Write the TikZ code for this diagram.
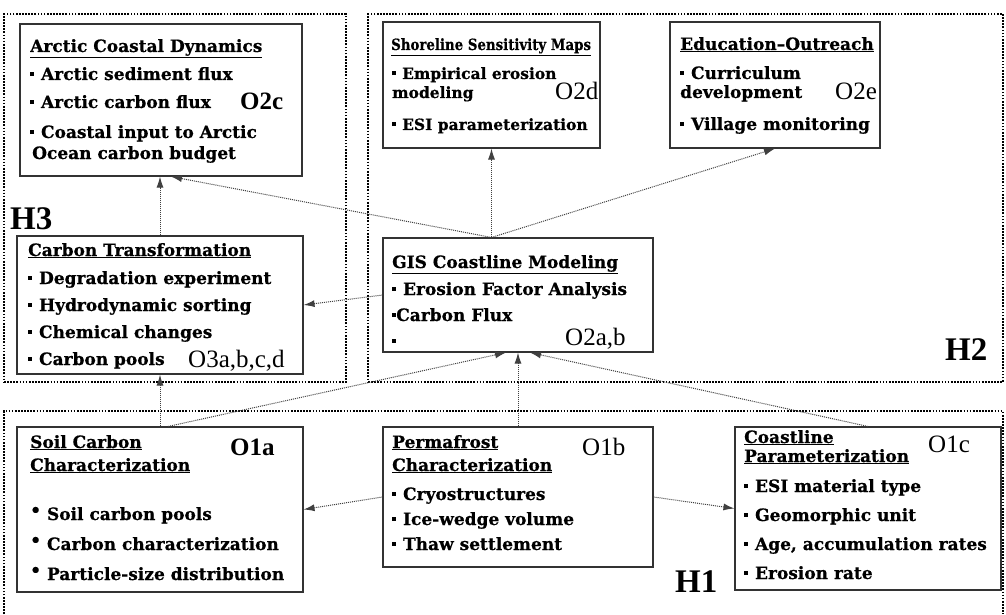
\documentclass[tikz,border=0pt]{standalone}
\usepackage{fontspec}
\setmainfont{DejaVu Serif}[BoldFeatures={FakeBold=0.6}]
\newfontfamily\libserif{Liberation Serif}
\usetikzlibrary{arrows.meta,fit}
\newcommand{\bsq}{\raisebox{0.25em}{\rule{0.24em}{0.24em}}\hspace{0.4em}}
\newcommand{\bsqn}{\raisebox{0.25em}{\rule{0.24em}{0.24em}}}
\newcommand{\bdt}{\raisebox{0.22em}{•}\hspace{0.35em}}
\begin{document}
\begin{tikzpicture}[x=1pt,y=-1pt,
  region/.style={draw=black, line width=2.6pt, dash pattern=on 1.7pt off 1.4pt, inner sep=0pt},
  box/.style={draw=black!80, line width=1.1pt, inner sep=0pt},
  txt/.style={anchor=base west, inner sep=0pt, font=\fontsize{17}{19}\selectfont\bfseries},
  stxt/.style={anchor=base west, inner sep=0pt, font=\fontsize{15.5}{18}\selectfont\bfseries},
  olab/.style={anchor=base west, inner sep=0pt, font=\libserif\fontsize{25}{27}\selectfont},
  obold/.style={anchor=base west, inner sep=0pt, font=\libserif\fontsize{25}{27}\selectfont\bfseries},
  hlab/.style={anchor=base west, inner sep=0pt, font=\libserif\fontsize{33}{35}\selectfont\bfseries},
  link/.style={draw=black!75, line width=1pt, densely dotted, -{Latex[length=11pt,width=7pt]}},
]
\useasboundingbox (0,0) rectangle (1006,615);
\fill[white] (0,0) rectangle (1006,615);

% regions
\node[region, fit={(4,14)(346,382)}] (h3reg) {};
\node[region, fit={(368,14)(1003,382)}] (h2reg) {};
\draw[region] (4,614) -- (4,411) -- (1003,411) -- (1003,614);

% boxes
\node[box, fit={(20,24)(302,176)}] (arctic) {};
\node[box, fit={(383,22)(600,148)}] (shore) {};
\node[box, fit={(670,22)(880,148)}] (edu) {};
\node[box, fit={(17,236)(303,374)}] (carbon) {};
\node[box, fit={(383,238)(653,352)}] (gis) {};
\node[box, fit={(17,427)(303,592)}] (soil) {};
\node[box, fit={(383,427)(653,567)}] (perma) {};
\node[box, fit={(735,427)(1001,590)}] (coast) {};

% Arctic Coastal Dynamics
\node[txt] (a0) at (30,52) {\underline{Arctic Coastal Dynamics}};
\node[txt] (a1) at (30,80) {\bsq Arctic sediment flux};
\node[txt] (a2) at (30,108) {\bsq Arctic carbon flux};
\node[txt] (a3) at (30,138) {\bsq Coastal input to Arctic};
\node[txt] (a4) at (32,159) {Ocean carbon budget};
\node[obold] (o2c) at (240,110) {O2c};

% Shoreline Sensitivity Maps
\node[stxt] (s0) at (391,50) {\scalebox{0.86}[1]{\underline{Shoreline Sensitivity Maps}}};
\node[stxt] (s1) at (392,79) {\bsq Empirical erosion};
\node[stxt] (s2) at (392,98) {modeling};
\node[stxt] (s3) at (392,130) {\bsq ESI parameterization};
\node[olab] (o2d) at (555,100) {O2d};

% Education-Outreach
\node[txt] (e0) at (680,50) {\underline{Education–Outreach}};
\node[txt] (e1) at (680,79) {\bsq Curriculum};
\node[txt] (e2) at (680,98) {development};
\node[txt] (e3) at (680,130) {\bsq Village monitoring};
\node[olab] (o2e) at (835,100) {O2e};

% Carbon Transformation
\node[txt] (c0) at (28,256) {\underline{Carbon Transformation}};
\node[txt] (c1) at (28,284) {\bsq Degradation experiment};
\node[txt] (c2) at (28,311) {\bsq Hydrodynamic sorting};
\node[txt] (c3) at (28,338) {\bsq Chemical changes};
\node[txt] (c4) at (28,365) {\bsq Carbon pools};
\node[olab] (o3) at (188,367) {O3a,b,c,d};

% GIS Coastline Modeling
\node[txt] (g0) at (392,268) {\underline{GIS Coastline Modeling}};
\node[txt] (g1) at (392,295) {\bsq Erosion Factor Analysis};
\node[txt] (g2) at (392,321) {\bsqn Carbon Flux};
\node[txt] (g3) at (392,347) {\bsqn};
\node[olab] (o2ab) at (565,345) {O2a,b};

% Soil Carbon Characterization
\node[txt] (sc0) at (30,448) {\underline{Soil Carbon}};
\node[txt] (sc1) at (30,471) {\underline{Characterization}};
\node[txt] (sc2) at (30,520) {\bdt Soil carbon pools};
\node[txt] (sc3) at (30,550) {\bdt Carbon characterization};
\node[txt] (sc4) at (30,580) {\bdt Particle-size distribution};
\node[obold] (o1a) at (230,455) {O1a};

% Permafrost Characterization
\node[txt] (p0) at (392,448) {\underline{Permafrost}};
\node[txt] (p1) at (392,471) {\underline{Characterization}};
\node[txt] (p2) at (392,500) {\bsq Cryostructures};
\node[txt] (p3) at (392,525) {\bsq Ice-wedge volume};
\node[txt] (p4) at (392,550) {\bsq Thaw settlement};
\node[olab] (o1b) at (582,455) {O1b};

% Coastline Parameterization
\node[txt] (k0) at (744,443) {\underline{Coastline}};
\node[txt] (k1) at (744,462) {\underline{Parameterization}};
\node[txt] (k2) at (744,492) {\bsq ESI material type};
\node[txt] (k3) at (744,521) {\bsq Geomorphic unit};
\node[txt] (k4) at (744,550) {\bsq Age, accumulation rates};
\node[txt] (k5) at (744,579) {\bsq Erosion rate};
\node[olab] (o1c) at (928,452) {O1c};

% H labels
\node[hlab] (h3) at (10,229) {H3};
\node[hlab] (h2) at (945,360) {H2};
\node[hlab] (h1) at (675,592) {H1};

% connectors
\coordinate (gtop) at (shore.south |- gis.north);
\draw[link] (carbon.north) -- (carbon.north |- arctic.south);
\draw[link] (gtop) -- ([xshift=10pt]arctic.south);
\draw[link] (gtop) -- (shore.south);
\draw[link] (gtop) -- (edu.south);
\draw[link] (gis.west) -- (carbon.east);
\draw[link] (soil.north) -- (soil.north |- carbon.south);
\draw[link] ([xshift=8pt]soil.north) -- ([xshift=-12pt]gis.south);
\draw[link] (perma.north) -- (gis.south);
\draw[link] (coast.north) -- ([xshift=12pt]gis.south);
\draw[link] (perma.west) -- (soil.east);
\draw[link] (perma.east) -- (coast.west);
\end{tikzpicture}
\end{document}
